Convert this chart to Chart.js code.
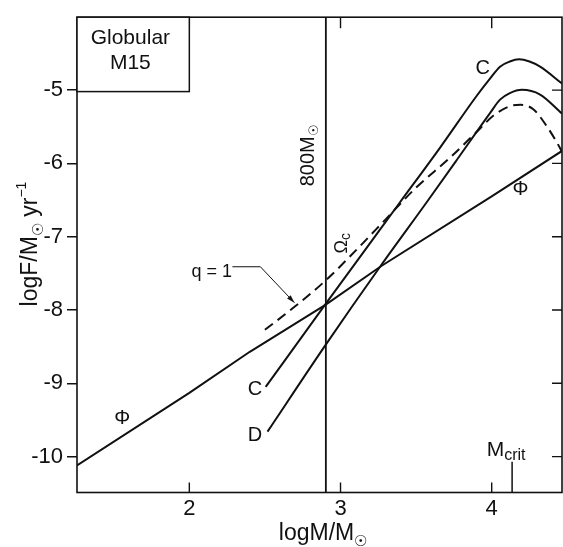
<!DOCTYPE html>
<html>
<head>
<meta charset="utf-8">
<script src="https://cdn.jsdelivr.net/npm/chart.js@4.4.0/dist/chart.umd.min.js"></script>
<style>
  html, body { margin: 0; padding: 0; background: #fff; }
  #wrap { width: 563px; height: 547px; }
</style>
</head>
<body>
<div id="wrap"><canvas id="chart" width="563" height="547"></canvas></div>
<script>
// Axis ranges and tick values (log M / M_sun, log F / M_sun yr^-1)
const xRange = [1.257, 4.465];
const yRange = [-10.49, -4.005];
const xTicks = [2, 3, 4];
const yTicks = [-10, -9, -8, -7, -6, -5];

// Phi: straight relation
const phiX = [1.257, 2.0, 2.4, 2.9, 3.27, 4.0, 4.465];
const phiY = [-10.12, -9.13, -8.57, -7.93, -7.40, -6.45, -5.83];

// Curve C
const cX = [2.505, 2.897, 3.39, 3.66, 3.90, 3.99, 4.055, 4.12, 4.18, 4.25, 4.32, 4.465];
const cY = [-9.05, -7.93, -6.54, -5.78, -5.08, -4.84, -4.68, -4.61, -4.58, -4.61, -4.68, -4.91];

// Curve D
const dX = [2.517, 2.897, 3.265, 3.57, 3.77, 3.90, 3.99, 4.055, 4.12, 4.20, 4.32, 4.465];
const dY = [-9.66, -8.49, -7.40, -6.53, -5.95, -5.57, -5.31, -5.13, -5.04, -4.995, -5.06, -5.32];

// q = 1 (dashed)
const qX = [2.50, 2.70, 2.90, 3.10, 3.30, 3.50, 3.72, 3.92, 4.01, 4.12, 4.19, 4.275, 4.36, 4.43, 4.465];
const qY = [-8.27, -7.95, -7.60, -7.19, -6.76, -6.33, -5.93, -5.53, -5.35, -5.22, -5.20, -5.26, -5.48, -5.71, -5.84];

// Reference masses
const m800 = Math.log10(800);
const mCrit = 4.135;
const mCritTop = -10.07;

// Leader for the "q = 1" label
const qLeaderX = [2.285, 2.47, 2.695];
const qLeaderY = [-7.41, -7.41, -7.90];

const INK = '#111';
const FONT = '"Liberation Sans", Arial, sans-serif';

const pts = (xs, ys) => xs.map((x, i) => ({ x, y: ys[i] }));

function line(data, extra) {
  return Object.assign({
    data, showLine: true, pointRadius: 0, borderColor: INK, borderWidth: 2,
    fill: false, tension: 0
  }, extra || {});
}

// Draw a run of text pieces (sizes, baseline shifts) centred or left-aligned at (x, y)
function drawRich(ctx, parts, x, y, align) {
  let w = 0;
  parts.forEach(p => { ctx.font = p.size + 'px ' + FONT; p.w = ctx.measureText(p.t).width; w += p.w; });
  let cx = align === 'left' ? x : x - w / 2;
  ctx.textAlign = 'left';
  parts.forEach(p => {
    ctx.font = p.size + 'px ' + FONT;
    ctx.fillText(p.t, cx, y + (p.dy || 0));
    cx += p.w;
  });
}

const decorations = {
  id: 'decorations',
  afterDatasetsDraw(chart) {
    const { ctx, chartArea: a, scales: { x, y } } = chart;
    const px = v => x.getPixelForValue(v);
    const py = v => y.getPixelForValue(v);
    ctx.save();
    ctx.strokeStyle = INK;
    ctx.fillStyle = INK;

    // frame
    ctx.lineWidth = 1.6;
    ctx.strokeRect(a.left, a.top, a.right - a.left, a.bottom - a.top);

    // inward ticks: bottom, top, right
    ctx.lineWidth = 1.4;
    ctx.beginPath();
    xTicks.forEach(v => {
      const X = px(v);
      ctx.moveTo(X, a.bottom); ctx.lineTo(X, a.bottom - 10);
      ctx.moveTo(X, a.top); ctx.lineTo(X, a.top + 11);
    });
    yTicks.forEach(v => {
      const Y = py(v);
      ctx.moveTo(a.right, Y); ctx.lineTo(a.right - 10, Y);
    });
    ctx.stroke();

    // "Globular M15" box
    ctx.lineWidth = 1.5;
    ctx.fillStyle = '#fff';
    ctx.fillRect(a.left, a.top, px(2) - a.left, py(-5.02) - a.top);
    ctx.strokeRect(a.left, a.top, px(2) - a.left, py(-5.02) - a.top);
    ctx.fillStyle = INK;
    ctx.textBaseline = 'middle';
    ctx.textAlign = 'center';
    ctx.font = '21px ' + FONT;
    ctx.fillText('Globular', px(1.61), py(-4.296));
    ctx.fillText('M15', px(1.61), py(-4.632));

    // curve labels
    ctx.font = '20px ' + FONT;
    ctx.fillText('C', px(3.94), py(-4.70));
    ctx.fillText('C', px(2.435), py(-9.09));
    ctx.fillText('D', px(2.435), py(-9.71));
    ctx.fillText('\u03A6', px(1.556), py(-9.48));
    ctx.fillText('\u03A6', px(4.19), py(-6.36));
    ctx.font = '18px ' + FONT;
    ctx.fillText('q = 1', px(2.149), py(-7.485));

    // arrowhead on the q = 1 leader
    const tx = px(qLeaderX[2]), ty = py(qLeaderY[2]);
    const fx = px(qLeaderX[1]), fy = py(qLeaderY[1]);
    const ang = Math.atan2(ty - fy, tx - fx);
    ctx.beginPath();
    ctx.moveTo(tx, ty);
    ctx.lineTo(tx - 8 * Math.cos(ang) + 2.5 * Math.sin(ang), ty - 8 * Math.sin(ang) - 2.5 * Math.cos(ang));
    ctx.lineTo(tx - 8 * Math.cos(ang) - 2.5 * Math.sin(ang), ty - 8 * Math.sin(ang) + 2.5 * Math.cos(ang));
    ctx.closePath();
    ctx.fill();

    // rotated labels
    ctx.textBaseline = 'middle';
    ctx.save();
    ctx.translate(px(2.79), py(-5.89));
    ctx.rotate(-Math.PI / 2);
    drawRich(ctx, [{ t: '800M', size: 20 }, { t: '\u2609', size: 13, dy: 6 }], 0, 0, 'center');
    ctx.restore();

    ctx.save();
    ctx.translate(px(3.01), py(-7.09));
    ctx.rotate(-Math.PI / 2);
    drawRich(ctx, [{ t: '\u03A9', size: 18 }, { t: 'c', size: 14, dy: 4 }], 0, 0, 'center');
    ctx.restore();

    // M_crit label
    ctx.textBaseline = 'alphabetic';
    drawRich(ctx, [{ t: 'M', size: 21 }, { t: 'crit', size: 16, dy: 4 }], px(3.967), py(-9.99), 'left');

    // axis titles
    drawRich(ctx, [{ t: 'logM/M', size: 23 }, { t: '\u2609', size: 15, dy: 6 }], 323, 540, 'center');
    ctx.save();
    ctx.translate(37, 244);
    ctx.rotate(-Math.PI / 2);
    drawRich(ctx, [
      { t: 'logF/M', size: 23 }, { t: '\u2609', size: 15, dy: 6 },
      { t: ' yr', size: 23 }, { t: '\u2212' + '1', size: 14, dy: -11 }
    ], 0, 0, 'center');
    ctx.restore();

    ctx.restore();
  }
};

new Chart(document.getElementById('chart'), {
  type: 'scatter',
  data: {
    datasets: [
      line(pts(phiX, phiY)),
      line(pts(cX, cY), { cubicInterpolationMode: 'monotone' }),
      line(pts(dX, dY), { cubicInterpolationMode: 'monotone' }),
      line(pts(qX, qY), { cubicInterpolationMode: 'monotone', borderDash: [10, 6] }),
      line([{ x: m800, y: yRange[0] }, { x: m800, y: yRange[1] }], { borderWidth: 1.8 }),
      line([{ x: mCrit, y: yRange[0] }, { x: mCrit, y: mCritTop }], { borderWidth: 1.5 }),
      line(pts(qLeaderX, qLeaderY), { borderWidth: 1 })
    ]
  },
  options: {
    responsive: false,
    animation: false,
    devicePixelRatio: 1,
    layout: { padding: { top: 10, right: 1, left: 0, bottom: 0 } },
    plugins: { legend: { display: false }, tooltip: { enabled: false } },
    scales: {
      x: {
        type: 'linear',
        min: xRange[0], max: xRange[1],
        afterBuildTicks: s => { s.ticks = xTicks.map(v => ({ value: v })); },
        afterFit: s => { s.height = 54.5; },
        grid: { display: false, drawTicks: false },
        border: { display: false },
        ticks: { color: INK, padding: 3, font: { family: FONT, size: 22 }, maxRotation: 0 }
      },
      y: {
        type: 'linear',
        min: yRange[0], max: yRange[1],
        afterBuildTicks: s => { s.ticks = yTicks.map(v => ({ value: v })); },
        afterFit: s => { s.width = 77; },
        grid: { drawOnChartArea: false, drawTicks: true, tickLength: 10, color: INK, lineWidth: 1.5 },
        border: { display: false },
        ticks: { color: INK, padding: 4, font: { family: FONT, size: 22 } }
      }
    }
  },
  plugins: [decorations]
});
</script>
</body>
</html>
